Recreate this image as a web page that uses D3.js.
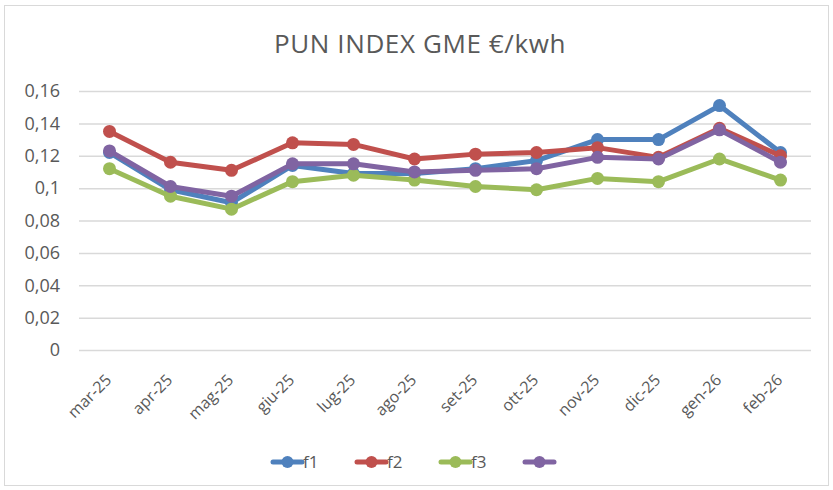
<!DOCTYPE html>
<html>
<head>
<meta charset="utf-8">
<script src="https://cdn.jsdelivr.net/npm/d3@7"></script>
<style>
	body{margin:0;background:#fff;}
	text{font-family:"Open Sans",Lato,sans-serif;fill:#595959;}
</style>
</head>
<body>
<div id="chart"></div>
<script>
var months = ["mar-25","apr-25","mag-25","giu-25","lug-25","ago-25","set-25","ott-25","nov-25","dic-25","gen-26","feb-26"];
var f1 = [0.122,0.099,0.091,0.114,0.109,0.109,0.112,0.117,0.130,0.130,0.151,0.122];
var f2 = [0.135,0.116,0.111,0.128,0.127,0.118,0.121,0.122,0.125,0.119,0.137,0.120];
var f3 = [0.112,0.095,0.087,0.104,0.108,0.105,0.101,0.099,0.106,0.104,0.118,0.105];
var f4 = [0.123,0.101,0.095,0.115,0.115,0.110,0.111,0.112,0.119,0.118,0.136,0.116];
var yTicks = [0,0.02,0.04,0.06,0.08,0.1,0.12,0.14,0.16];
var seriesNames = ["f1","f2","f3",""];
var colors = ["#4F81BD","#C0504D","#9BBB59","#8064A2"];

var W = 833, H = 490;
var svg = d3.select("#chart").append("svg")
	.attr("width", W)
	.attr("height", H);

// chart frame
svg.append("rect")
	.attr("x", 4.5).attr("y", 5.5)
	.attr("width", 824).attr("height", 480)
	.attr("fill", "#fff")
	.attr("stroke", "#d9d9d9");

svg.append("text")
	.attr("x", 420).attr("y", 53)
	.attr("text-anchor", "middle")
	.style("font-size", "26px")
	.style("letter-spacing", "0.6px")
	.text("PUN INDEX GME €/kwh");

var x = d3.scaleBand().domain(months).range([79, 811]);
var y = d3.scaleLinear().domain([0, 0.16]).range([350, 91]);

var fmt = function(v){ return String(+v.toFixed(2)).replace(".", ","); };

// grid + y labels
var yAxis = svg.append("g")
	.attr("transform", "translate(79,0)")
	.call(d3.axisLeft(y).tickValues(yTicks).tickSize(-732).tickFormat(fmt).tickPadding(19));
yAxis.select(".domain").remove();
yAxis.selectAll("line").attr("stroke", "#d9d9d9").attr("stroke-width", 1.5);
yAxis.selectAll("text").style("font-size", "18px").style("font-family", "'Open Sans',sans-serif").attr("fill", "#595959");

// x labels
var xAxis = svg.append("g")
	.attr("transform", "translate(0,350)")
	.call(d3.axisBottom(x).tickSize(0).tickPadding(0));
xAxis.select(".domain").remove();
xAxis.selectAll("text")
	.style("font-size", "16px")
	.style("font-family", "'Open Sans',sans-serif")
	.attr("fill", "#595959")
	.attr("text-anchor", "end")
	.attr("dy", 0)
	.attr("y", 0)
	.attr("transform", "translate(3,31) rotate(-45)");

var all = [f1, f2, f3, f4];
var line = d3.line()
	.x(function(d, i){ return x(months[i]) + x.bandwidth() / 2; })
	.y(function(d){ return y(d); });

all.forEach(function(s, k){
	var g = svg.append("g");
	g.append("path")
		.datum(s)
		.attr("d", line)
		.attr("fill", "none")
		.attr("stroke", colors[k])
		.attr("stroke-width", 5)
		.attr("stroke-linejoin", "round");
	g.selectAll("circle").data(s).enter().append("circle")
		.attr("cx", function(d, i){ return x(months[i]) + x.bandwidth() / 2; })
		.attr("cy", function(d){ return y(d); })
		.attr("r", 6.5)
		.attr("fill", colors[k]);
});

// legend
var legendX = [273, 357, 441, 525];
var leg = svg.append("g");
seriesNames.forEach(function(n, k){
	var lx = legendX[k];
	leg.append("line")
		.attr("x1", lx).attr("x2", lx + 29)
		.attr("y1", 462).attr("y2", 462)
		.attr("stroke", colors[k]).attr("stroke-width", 5).attr("stroke-linecap", "round");
	leg.append("circle").attr("cx", lx + 14.5).attr("cy", 462).attr("r", 6).attr("fill", colors[k]);
	if(n){
		leg.append("text")
			.attr("x", lx + 30).attr("y", 468)
			.style("font-size", "17px")
			.text(n);
	}
});
</script>
</body>
</html>
